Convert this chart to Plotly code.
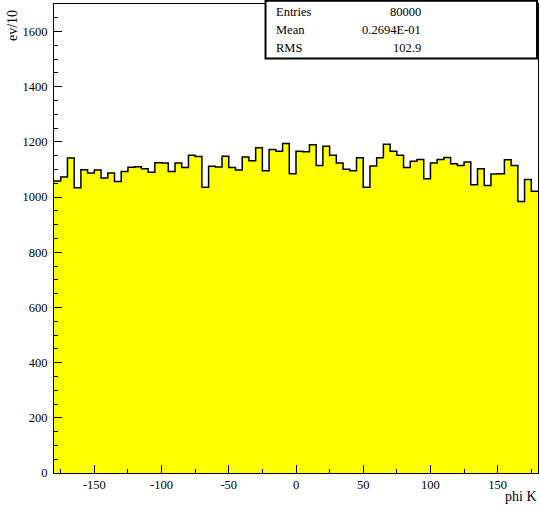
import plotly.graph_objects as go

# Histogram of phi K: 72 bins of 5 degrees from -180 to 180
bin_low = -180.0
bin_width = 5.0
counts = [
    1058, 1073, 1142, 1034, 1099, 1087, 1098, 1069, 1087, 1057,
    1093, 1108, 1110, 1103, 1090, 1125, 1124, 1093, 1124, 1107,
    1152, 1147, 1036, 1112, 1109, 1148, 1107, 1098, 1145, 1132,
    1179, 1096, 1173, 1166, 1194, 1085, 1166, 1164, 1190, 1115,
    1184, 1152, 1124, 1101, 1096, 1143, 1036, 1113, 1143, 1192,
    1166, 1152, 1107, 1130, 1136, 1067, 1124, 1136, 1144, 1121,
    1115, 1127, 1045, 1103, 1042, 1084, 1085, 1135, 1115, 984,
    1064, 1021,
]

x_tick_vals = [-150, -100, -50, 0, 50, 100, 150]
x_tick_text = ["-150", "-100", "-50", "0", "50", "100", "150"]
y_tick_vals = [0, 200, 400, 600, 800, 1000, 1200, 1400, 1600]
y_tick_text = ["0", "200", "400", "600", "800", "1000", "1200", "1400", "1600"]

stat_names = ["Entries", "Mean", "RMS"]
stat_values = ["80000", "0.2694E-01", "102.9"]

x_title = "phi K"
y_title = "ev/10"

edges = [bin_low + i * bin_width for i in range(len(counts) + 1)]
step_x = edges
step_y = counts + [counts[-1]]

FONT = "Liberation Serif"

fig = go.Figure()
fig.add_trace(go.Scatter(
    x=step_x, y=step_y,
    mode="lines",
    line=dict(shape="hv", color="black", width=1.5),
    fill="tozeroy",
    fillcolor="#ffff00",
    hoverinfo="skip",
    showlegend=False,
))

axis_common = dict(
    showgrid=False,
    zeroline=False,
    showline=True,
    linecolor="black",
    linewidth=1.2,
    mirror=True,
    ticks="inside",
    ticklen=8,
    tickwidth=1,
    tickcolor="black",
    tickfont=dict(family=FONT, size=12.5, color="black"),
)

fig.update_xaxes(
    range=[-180, 180],
    tickmode="array", tickvals=x_tick_vals, ticktext=x_tick_text,
    minor=dict(dtick=25, tick0=0, ticks="inside", ticklen=4, tickcolor="black", tickwidth=1),
    ticklabelstandoff=0,
    **axis_common,
)
fig.update_yaxes(
    range=[0, 1700],
    tickmode="array", tickvals=y_tick_vals, ticktext=y_tick_text,
    minor=dict(dtick=50, tick0=0, ticks="inside", ticklen=4, tickcolor="black", tickwidth=1),
    ticklabelstandoff=3,
    **axis_common,
)

# Statistics box in the upper right corner
box_x0, box_x1 = 0.437, 0.998
box_y0, box_y1 = 0.884, 1.007
fig.add_shape(type="rect", xref="paper", yref="paper",
              x0=box_x0, x1=box_x1, y0=box_y0, y1=box_y1,
              line=dict(color="black", width=2), fillcolor="white", layer="above")

row_y = [0.983, 0.945, 0.906]
annotations = []
for name, val, yy in zip(stat_names, stat_values, row_y):
    annotations.append(dict(xref="paper", yref="paper", x=0.4545, y=yy,
                            text=name, showarrow=False, xanchor="left", yanchor="middle",
                            font=dict(family=FONT, size=12.5, color="black")))
    annotations.append(dict(xref="paper", yref="paper", x=0.762, y=yy,
                            text=val, showarrow=False, xanchor="right", yanchor="middle",
                            font=dict(family=FONT, size=12.5, color="black")))

annotations.append(dict(xref="paper", yref="paper", x=1.003, y=-0.051,
                        text=x_title, showarrow=False, xanchor="right", yanchor="middle",
                        font=dict(family=FONT, size=14, color="black")))
annotations.append(dict(xref="paper", yref="paper", x=-0.087, y=0.955,
                        text=y_title, showarrow=False, textangle=-90,
                        xanchor="center", yanchor="middle",
                        font=dict(family=FONT, size=14, color="black")))

fig.update_layout(
    width=540, height=512,
    margin=dict(l=54, r=2, t=4, b=39),
    paper_bgcolor="white",
    plot_bgcolor="white",
    annotations=annotations,
)

fig.write_html("out.html")
